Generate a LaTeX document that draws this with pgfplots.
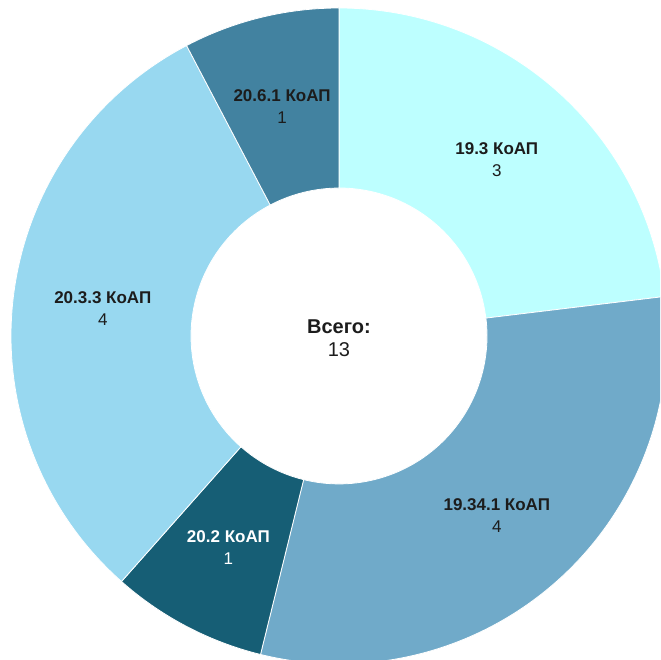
\documentclass[border=0pt]{standalone}
\usepackage{pgfplots}
\usepackage{pgfplotstable}
\pgfplotsset{compat=1.18}
\usepackage{fontspec}
\setmainfont{Liberation Sans}

\definecolor{sc0}{HTML}{BDFFFF}
\definecolor{sc1}{HTML}{70AAC9}
\definecolor{sc2}{HTML}{165E75}
\definecolor{sc3}{HTML}{98D8F0}
\definecolor{sc4}{HTML}{4282A0}
\definecolor{tc0}{HTML}{1C1C1C}
\definecolor{tc1}{HTML}{1C1C1C}
\definecolor{tc2}{HTML}{FFFFFF}
\definecolor{tc3}{HTML}{1C1C1C}
\definecolor{tc4}{HTML}{1C1C1C}

\pgfplotstableread[col sep=comma]{
label,value
19.3 КоАП,3
19.34.1 КоАП,4
20.2 КоАП,1
20.3.3 КоАП,4
20.6.1 КоАП,1
}\datatable

\begin{document}
\begin{tikzpicture}
% cumulative angles computed from the table
\pgfplotstablegetrowsof{\datatable}
\pgfmathtruncatemacro\nrows{\pgfplotsretval-1}
\def\total{0}
\pgfplotsinvokeforeach{0,...,\nrows}{%
  \pgfplotstablegetelem{#1}{value}\of\datatable
  \pgfmathsetmacro\total{\total+\pgfplotsretval}%
  \xdef\total{\total}%
}%
\def\cum{0}%
\pgfplotsinvokeforeach{0,...,\nrows}{%
  \pgfplotstablegetelem{#1}{value}\of\datatable
  \edef\val{\pgfplotsretval}%
  \expandafter\xdef\csname val#1\endcsname{\val}%
  \pgfplotstablegetelem{#1}{label}\of\datatable
  \expandafter\xdef\csname lab#1\endcsname{\pgfplotsretval}%
  \pgfmathsetmacro\sa{90-360*\cum/\total}%
  \pgfmathsetmacro\ea{90-360*(\cum+\val)/\total}%
  \pgfmathsetmacro\ma{(\sa+\ea)/2}%
  \expandafter\xdef\csname sa#1\endcsname{\sa}%
  \expandafter\xdef\csname ea#1\endcsname{\ea}%
  \expandafter\xdef\csname ma#1\endcsname{\ma}%
  \pgfmathsetmacro\cum{\cum+\val}%
  \xdef\cum{\cum}%
}%
\pgfmathtruncatemacro\totalint{\total}%
\begin{axis}[
  scale only axis,
  width=660pt, height=660pt,
  xmin=-1.0335, xmax=0.9787,
  ymin=-0.9878, ymax=1.0244,
  hide axis,
  clip=true,
]
\pgfplotsinvokeforeach{0,...,\nrows}{%
  \fill[sc#1, draw=white, line width=0.8pt]
    (axis cs:{cos(\csname sa#1\endcsname)},{sin(\csname sa#1\endcsname)})
    arc[start angle=\csname sa#1\endcsname, end angle=\csname ea#1\endcsname, radius=328pt]
    -- (axis cs:{0.451*cos(\csname ea#1\endcsname)},{0.451*sin(\csname ea#1\endcsname)})
    arc[start angle=\csname ea#1\endcsname, end angle=\csname sa#1\endcsname, radius=148pt]
    -- cycle;
}
\pgfplotsinvokeforeach{0,...,\nrows}{%
  \node[align=center, text=tc#1, font=\fontsize{17}{22}\selectfont, inner sep=0pt]
    at (axis cs:{0.7255*cos(\csname ma#1\endcsname)},{0.7255*sin(\csname ma#1\endcsname)-0.004})
    {\textbf{\csname lab#1\endcsname}\\\csname val#1\endcsname};
}
\node[align=center, text=tc0, font=\fontsize{20}{23}\selectfont, inner sep=0pt]
  at (axis cs:0,-0.006) {\textbf{Всего:}\\\totalint};
\end{axis}
\pgfresetboundingbox
\useasboundingbox (current axis.south west) rectangle (current axis.north east);
\end{tikzpicture}
\end{document}
